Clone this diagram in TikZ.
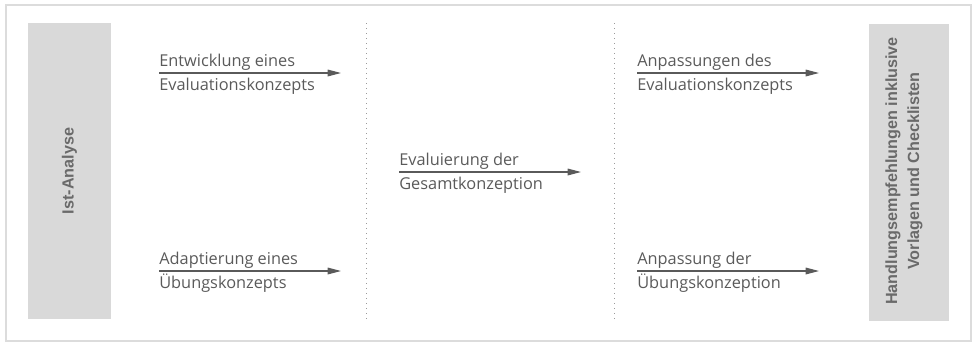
\documentclass[tikz,border=0pt]{standalone}
\usepackage{fontspec}
\setmainfont{Open Sans}
\newfontfamily\boxfont{Liberation Sans}
\usetikzlibrary{arrows.meta}

\definecolor{framegray}{HTML}{DCDCDC}
\definecolor{boxgray}{HTML}{D9D9D9}
\definecolor{boxtext}{HTML}{6A6A6A}
\definecolor{linegray}{HTML}{5A5A5A}
\definecolor{dotgray}{HTML}{9A9A9A}

\def \arrowlen {182}
\def \toprow {73}
\def \botrow {271}

\tikzset{
  steptext/.style={anchor=base west, inner sep=0pt, text=linegray, font=\fontsize{9.8}{11}\selectfont},
  steparrow/.style={draw=linegray, line width=0.7pt, -{Triangle[length=8pt,width=4pt]}},
  sidebox/.style={fill=boxgray, draw=none},
  sidetext/.style={rotate=90, text=boxtext, align=center, font=\boxfont\bfseries\fontsize{9.7}{13.2}\selectfont},
  divider/.style={draw=dotgray, line width=0.5pt, dash pattern=on 0.6pt off 2.4pt}
}

\begin{document}
\begin{tikzpicture}[x=0.6pt, y=-0.6pt]
\useasboundingbox (0,0) rectangle (974,341);
\draw[framegray, line width=0.9pt] (6,5) rectangle (971,341);

% side boxes
\fill[sidebox] (28,23) rectangle (111,319);
\node[sidetext] (ist) at (69.5,171) {Ist-Analyse};
\fill[sidebox] (869,24) rectangle (949,321);
\node[sidetext] (hand) at (904,171) {Handlungsempfehlungen inklusive\\Vorlagen und Checklisten};

% dotted dividers
\draw[divider] (366,23) -- (366,320);
\draw[divider] (614,23) -- (614,320);

% first column
\coordinate (evalA) at (159,\toprow);
\coordinate (evalB) at (159+\arrowlen,\toprow);
\draw[steparrow] (evalA) -- (evalB);
\node[steptext] (evalup) at (159,66) {Entwicklung eines};
\node[steptext] (evallo) at (159,90) {Evaluationskonzepts};
\coordinate (uebA) at (159,\botrow);
\coordinate (uebB) at (159+\arrowlen,\botrow);
\draw[steparrow] (uebA) -- (uebB);
\node[steptext] (uebup) at (159,264) {Adaptierung eines};
\node[steptext] (ueblo) at (159,288) {Übungskonzepts};

% middle column
\coordinate (gesA) at (399,172);
\coordinate (gesB) at (399+\arrowlen,172);
\draw[steparrow] (gesA) -- (gesB);
\node[steptext] (gesup) at (399,165) {Evaluierung der};
\node[steptext] (geslo) at (399,189) {Gesamtkonzeption};

% last column
\coordinate (anpA) at (637,\toprow);
\coordinate (anpB) at (637+\arrowlen,\toprow);
\draw[steparrow] (anpA) -- (anpB);
\node[steptext] (anpup) at (637,66) {Anpassungen des};
\node[steptext] (anplo) at (637,90) {Evaluationskonzepts};
\coordinate (konA) at (637,\botrow);
\coordinate (konB) at (637+\arrowlen,\botrow);
\draw[steparrow] (konA) -- (konB);
\node[steptext] (konup) at (637,264) {Anpassung der};
\node[steptext] (konlo) at (637,288) {Übungskonzeption};
\end{tikzpicture}
\end{document}
